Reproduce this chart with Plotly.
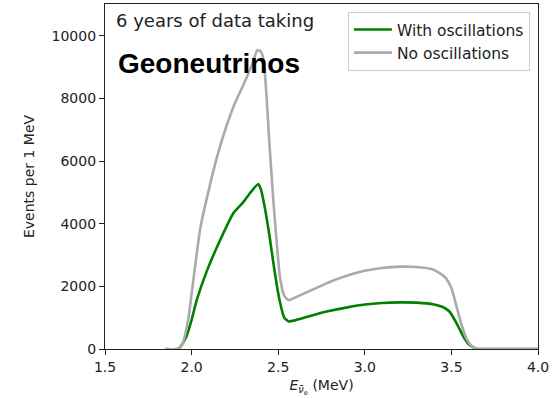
import plotly.graph_objects as go

# Energy grid (MeV) and event counts per 1 MeV
E_no = [1.85, 1.92, 1.945, 1.98, 2.01, 2.05, 2.10, 2.15, 2.20, 2.25, 2.30, 2.35, 2.38, 2.40,
        2.415, 2.43, 2.45, 2.47, 2.49, 2.51, 2.535, 2.56, 2.60, 2.70, 2.80, 2.90, 3.00,
        3.10, 3.20, 3.30, 3.38, 3.43, 3.47, 3.50, 3.53, 3.56, 3.59, 3.62, 3.65, 3.70, 4.00]
no_osc = [0, 0, 130, 930, 2200, 3850, 5100, 6200, 7100, 7850, 8450, 9100, 9550, 9500,
          9250, 8300, 6500, 4900, 3500, 2300, 1700, 1560, 1650, 1900, 2150, 2350, 2500,
          2590, 2630, 2620, 2560, 2430, 2250, 1950, 1350, 750, 300, 80, 0, 0, 0]

E_with = [1.85, 1.92, 1.935, 1.97, 2.00, 2.03, 2.09, 2.165, 2.24, 2.30, 2.34, 2.385, 2.40,
          2.42, 2.45, 2.48, 2.51, 2.535, 2.56, 2.60, 2.70, 2.80, 2.90, 3.00, 3.10, 3.20,
          3.30, 3.40, 3.45, 3.49, 3.53, 3.57, 3.60, 3.63, 3.65, 3.70, 4.00]
with_osc = [0, 0, 70, 400, 930, 1570, 2520, 3480, 4330, 4700, 5000, 5270, 5100,
            4600, 3600, 2450, 1500, 1000, 880, 920, 1080, 1220, 1330, 1420, 1470, 1490,
            1480, 1420, 1340, 1190, 820, 390, 150, 40, 0, 0, 0]

x_ticks = [1.5, 2.0, 2.5, 3.0, 3.5, 4.0]
y_ticks = [0, 2000, 4000, 6000, 8000, 10000]

fig = go.Figure()
fig.add_trace(go.Scatter(x=E_with, y=with_osc, mode="lines", name="With oscillations",
                         line=dict(color="#008000", width=2.6, shape="spline", smoothing=0.5)))
fig.add_trace(go.Scatter(x=E_no, y=no_osc, mode="lines", name="No oscillations",
                         line=dict(color="#aaaaaa", width=2.6, shape="spline", smoothing=0.5)))

axis_common = dict(showgrid=False, zeroline=False, showline=True, linecolor="#222",
                   linewidth=1.2, mirror=True, ticks="outside", ticklen=5, tickwidth=1.2,
                   tickcolor="#222", tickfont=dict(family="DejaVu Sans", size=14, color="#222"))

fig.update_xaxes(range=[1.5, 4.0], tickvals=x_ticks, ticktext=[f"{v:.1f}" for v in x_ticks],
                 title=dict(text="<i>E</i><sub><i>ν̄</i><sub>e</sub></sub> (MeV)",
                            font=dict(family="DejaVu Sans", size=14, color="#222"), standoff=6),
                 **axis_common)
fig.update_yaxes(range=[0, 11020], tickvals=y_ticks, ticktext=[str(v) for v in y_ticks],
                 title=dict(text="Events per 1 MeV",
                            font=dict(family="DejaVu Sans", size=14, color="#222"), standoff=13),
                 **axis_common)

fig.add_annotation(x=0.021, y=0.951, xref="paper", yref="paper", xanchor="left", yanchor="middle",
                   text="6 years of data taking", showarrow=False,
                   font=dict(family="DejaVu Sans", size=18, color="#222"))
fig.add_annotation(x=0.026, y=0.8275, xref="paper", yref="paper", xanchor="left", yanchor="middle",
                   text="<b>Geoneutrinos</b>", showarrow=False,
                   font=dict(family="Liberation Sans", size=28, color="black"))

fig.update_layout(
    width=559, height=398,
    margin=dict(l=105, r=21, t=4, b=49),
    plot_bgcolor="white", paper_bgcolor="white",
    legend=dict(x=0.561, y=0.977, xanchor="left", yanchor="top",
                bgcolor="white", bordercolor="#cccccc", borderwidth=1,
                font=dict(family="DejaVu Sans", size=15.5, color="#222"),
                tracegroupgap=0, itemwidth=38),
)

fig.write_html("out.html")
